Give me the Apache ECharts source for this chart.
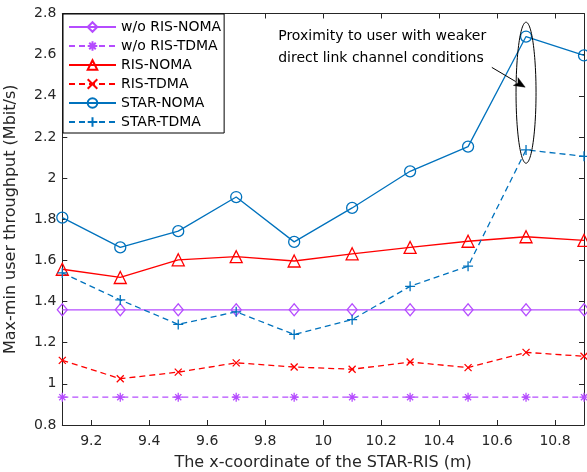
<!DOCTYPE html>
<html>
<head>
<meta charset="utf-8">
<script src="https://cdn.jsdelivr.net/npm/echarts@6/dist/echarts.min.js"></script>
<style>html,body{margin:0;padding:0;background:#fff;}#c{width:587px;height:472px;}</style>
</head>
<body>
<div id="c"></div>
<script>
const xs = [9.1, 9.3, 9.5, 9.7, 9.9, 10.1, 10.3, 10.5, 10.7, 10.9];
const xTicks = [9.2, 9.4, 9.6, 9.8, 10, 10.2, 10.4, 10.6, 10.8];
const woNoma = [1.36, 1.36, 1.36, 1.36, 1.36, 1.36, 1.36, 1.36, 1.36, 1.36];
const woTdma = [0.935, 0.935, 0.935, 0.935, 0.935, 0.935, 0.935, 0.935, 0.935, 0.935];
const risNoma = [1.557, 1.517, 1.603, 1.618, 1.597, 1.632, 1.663, 1.693, 1.715, 1.697];
const risTdma = [1.114, 1.025, 1.057, 1.102, 1.082, 1.071, 1.106, 1.079, 1.153, 1.134];
const starNoma = [1.808, 1.663, 1.742, 1.908, 1.690, 1.855, 2.033, 2.153, 2.688, 2.596];
const starTdma = [1.539, 1.408, 1.289, 1.350, 1.240, 1.312, 1.474, 1.572, 2.137, 2.106];
const annotation = ['Proximity to user with weaker', 'direct link channel conditions'];

const BLUE = '#0072BD', RED = '#FF0000', PURPLE = '#B54CFF';
const FONT = '"DejaVu Sans", Verdana, sans-serif';
const PLUS = 'path://M5,0V10M0,5H10';
const CROSS = 'path://M0,0L10,10M10,0L0,10';
const STAR = 'path://M5,0V10M0,5H10M1.6,1.6L8.4,8.4M8.4,1.6L1.6,8.4';

function pairs(v){ return xs.map((x,i)=>[x, v[i]]); }
function mk(name, data, color, dashed, symbol, size){
  return {
    name, type:'line', data: pairs(data), symbol, symbolSize:size,
    lineStyle:{color, width:1.3, type: dashed ? [6,4] : 'solid'},
    itemStyle:{color:'rgba(0,0,0,0)', borderColor:color, borderWidth:1.3},
    emphasis:{disabled:true}, animation:false, z:3
  };
}

const chart = echarts.init(document.getElementById('c'));
const axisCommon = {
  axisLine:{show:true, lineStyle:{color:'#262626', width:1}},
  splitLine:{show:false}
};
chart.setOption({
  animation:false,
  backgroundColor:'#fff',
  grid:{left:62.3, right:3, top:13.5, bottom:47, show:false, containLabel:false, outerBoundsMode:'none'},
  legend:{
    orient:'vertical', left:63, top:14,
    backgroundColor:'#fff', borderColor:'#000', borderWidth:1,
    padding:[6,3,4,5], itemWidth:47, itemHeight:12, itemGap:5,
    textStyle:{fontFamily:FONT, fontSize:14, color:'#000', lineHeight:14},
    data:['w/o RIS-NOMA','w/o RIS-TDMA','RIS-NOMA','RIS-TDMA','STAR-NOMA','STAR-TDMA']
  },
  xAxis:[
    Object.assign({type:'value', min:9.1, max:10.9, position:'bottom',
      name:'The x-coordinate of the STAR-RIS (m)', nameLocation:'middle', nameGap:30,
      nameTextStyle:{fontFamily:FONT, fontSize:16, color:'#262626'},
      axisTick:{show:true, inside:true, length:5, customValues:xTicks, lineStyle:{color:'#262626'}},
      axisLabel:{customValues:xTicks, margin:9, fontFamily:FONT, fontSize:14, color:'#262626'}
    }, axisCommon),
    Object.assign({type:'value', min:9.1, max:10.9, position:'top',
      axisTick:{show:true, inside:true, length:5, customValues:xTicks, lineStyle:{color:'#262626'}},
      axisLabel:{show:false}
    }, axisCommon)
  ],
  yAxis:[
    Object.assign({type:'value', min:0.8, max:2.8, interval:0.2, position:'left',
      name:'Max-min user throughput (Mbit/s)', nameLocation:'middle', nameGap:43,
      nameTextStyle:{fontFamily:FONT, fontSize:16, color:'#262626'},
      axisTick:{show:true, inside:true, length:5, lineStyle:{color:'#262626'}},
      axisLabel:{margin:6, fontFamily:FONT, fontSize:14, color:'#262626'}
    }, axisCommon),
    Object.assign({type:'value', min:0.8, max:2.8, interval:0.2, position:'right',
      axisTick:{show:true, inside:true, length:5, lineStyle:{color:'#262626'}},
      axisLabel:{show:false}
    }, axisCommon)
  ],
  series:[
    mk('w/o RIS-NOMA', woNoma, PURPLE, false, 'diamond', [10,12]),
    mk('w/o RIS-TDMA', woTdma, PURPLE, true, STAR, 9),
    mk('RIS-NOMA', risNoma, RED, false, 'triangle', 12),
    mk('RIS-TDMA', risTdma, RED, true, CROSS, 7),
    mk('STAR-NOMA', starNoma, BLUE, false, 'circle', 11),
    mk('STAR-TDMA', starTdma, BLUE, true, PLUS, 10)
  ]
});

// annotation anchored to data coordinates
const c = chart.convertToPixel({gridIndex:0}, [10.7, 2.415]);
const a0 = chart.convertToPixel({gridIndex:0}, [10.582, 2.538]);
const a1 = chart.convertToPixel({gridIndex:0}, [10.697, 2.442]);
const t0 = chart.convertToPixel({gridIndex:0}, [9.845, 2.635]);
const rx = 10, ry = 70.5, pts = [];
for (let k=0; k<120; k++){ const th = 2*Math.PI*k/120; pts.push([c[0]+rx*Math.cos(th), c[1]+ry*Math.sin(th)]); }
const ang = Math.atan2(a1[1]-a0[1], a1[0]-a0[0]);
const hl = 11, hw = 4.5;
const base = [a1[0]-hl*Math.cos(ang), a1[1]-hl*Math.sin(ang)];
const head = [a1,
  [base[0]+hw*Math.sin(ang), base[1]-hw*Math.cos(ang)],
  [a1[0]-hl*0.75*Math.cos(ang), a1[1]-hl*0.75*Math.sin(ang)],
  [base[0]-hw*Math.sin(ang), base[1]+hw*Math.cos(ang)]];
chart.setOption({
  graphic:[
    {type:'polygon', shape:{points:pts}, style:{fill:'none', stroke:'#000', lineWidth:1}, z:10, silent:true},
    {type:'line', shape:{x1:a0[0], y1:a0[1], x2:base[0], y2:base[1]}, style:{stroke:'#000', lineWidth:1}, z:10, silent:true},
    {type:'polygon', shape:{points:head}, style:{fill:'#000', stroke:'#000', lineWidth:0.5}, z:10, silent:true},
    {type:'text', x:t0[0], y:t0[1], style:{text:annotation.join('\n'), font:'14px ' + FONT, fill:'#000', lineHeight:22, textAlign:'left', textVerticalAlign:'middle'}, z:10, silent:true}
  ]
});
</script>
</body>
</html>
